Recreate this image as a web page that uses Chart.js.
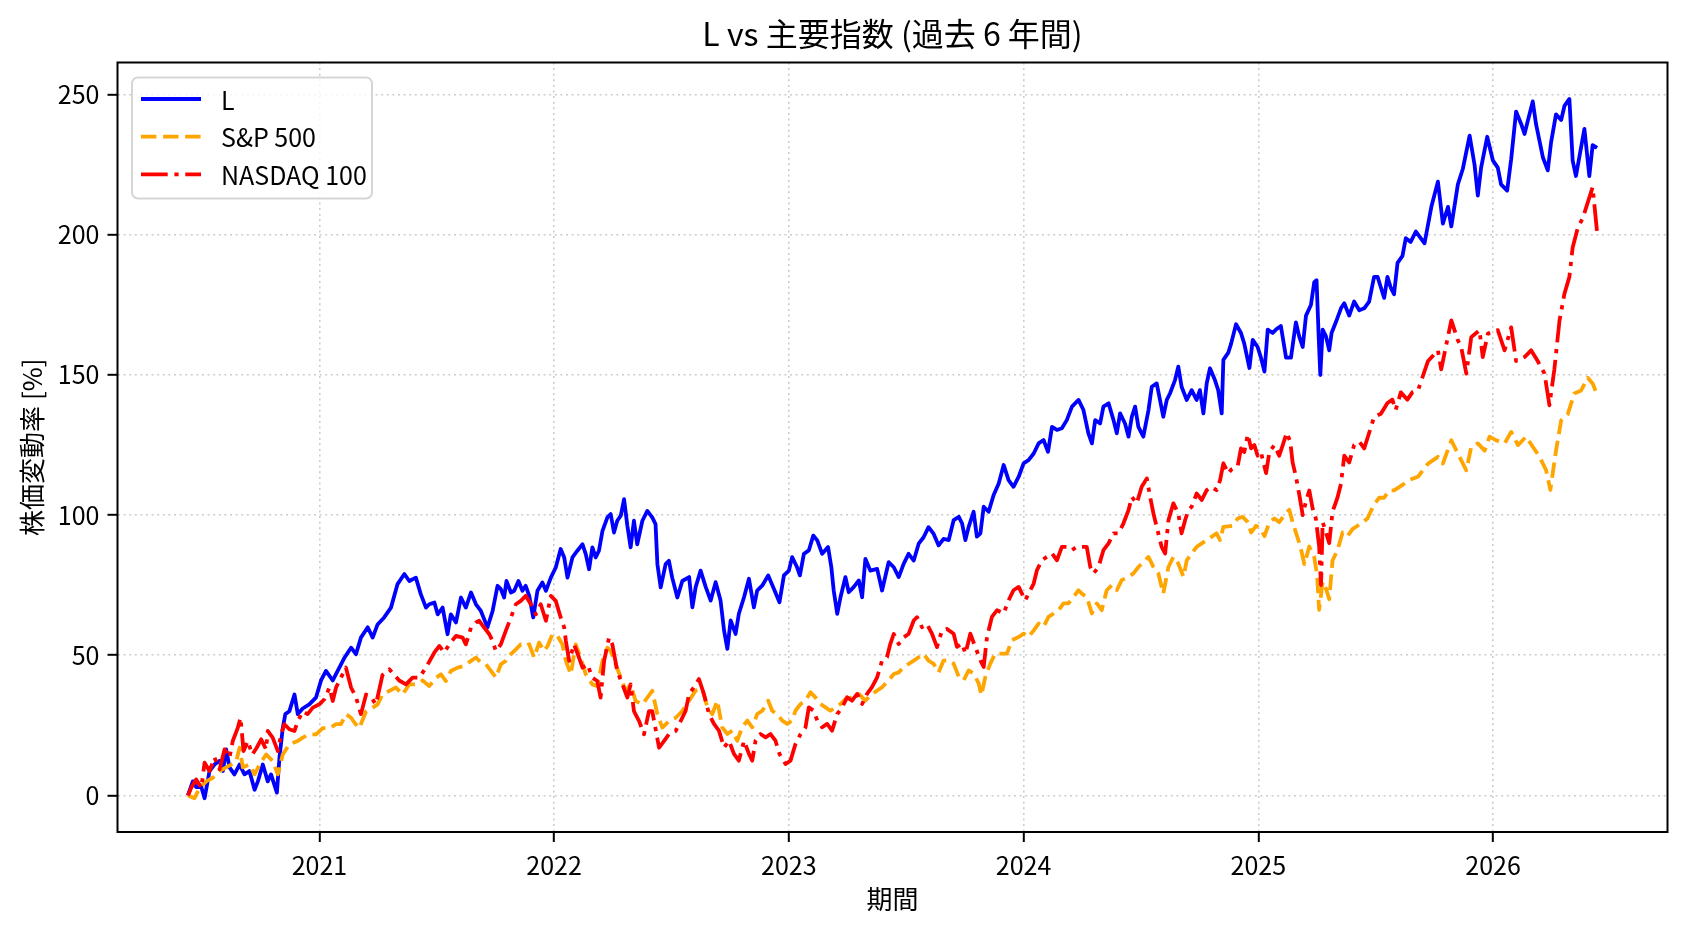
<!DOCTYPE html>
<html lang="ja">
<head>
  <meta charset="UTF-8">
  <title>L vs 主要指数 (過去 6 年間)</title>
  <script src="https://cdn.jsdelivr.net/npm/chart.js"></script>
  <style>
    html, body { margin: 0; padding: 0; background: #fff; }
    canvas { display: block; }
  </style>
</head>
<body>
  <canvas id="chart" width="1688" height="932"></canvas>

  <script>
    // --- data (x = decimal year, y = % change) ---
    const lDates = [
      2020.440, 2020.461, 2020.475, 2020.497, 2020.511, 2020.532, 2020.553, 2020.575, 2020.589, 2020.603,
      2020.617, 2020.638, 2020.660, 2020.681, 2020.702, 2020.724, 2020.738, 2020.759, 2020.780, 2020.794,
      2020.819, 2020.830, 2020.844, 2020.855, 2020.872, 2020.894, 2020.908, 2020.929, 2020.957, 2020.986,
      2021.007, 2021.028, 2021.057, 2021.085, 2021.106, 2021.135, 2021.156, 2021.177, 2021.206, 2021.227,
      2021.248, 2021.276, 2021.305, 2021.333, 2021.362, 2021.383, 2021.411, 2021.432, 2021.454, 2021.468,
      2021.490, 2021.504, 2021.525, 2021.546, 2021.560, 2021.582, 2021.603, 2021.624, 2021.646, 2021.667,
      2021.688, 2021.702, 2021.716, 2021.738, 2021.759, 2021.773, 2021.787, 2021.797, 2021.816, 2021.830,
      2021.848, 2021.865, 2021.879, 2021.894, 2021.911, 2021.929, 2021.950, 2021.965, 2021.986, 2022.007,
      2022.028, 2022.043, 2022.057, 2022.078, 2022.099, 2022.121, 2022.135, 2022.149, 2022.163, 2022.177,
      2022.191, 2022.206, 2022.227, 2022.241, 2022.255, 2022.269, 2022.284, 2022.298, 2022.312, 2022.326,
      2022.340, 2022.354, 2022.376, 2022.397, 2022.418, 2022.432, 2022.440, 2022.454, 2022.475, 2022.489,
      2022.503, 2022.525, 2022.546, 2022.575, 2022.589, 2022.603, 2022.624, 2022.646, 2022.667, 2022.688,
      2022.709, 2022.724, 2022.738, 2022.752, 2022.773, 2022.787, 2022.809, 2022.830, 2022.851, 2022.865,
      2022.887, 2022.912, 2022.936, 2022.960, 2022.979, 2023.000, 2023.014, 2023.035, 2023.047, 2023.064,
      2023.085, 2023.104, 2023.121, 2023.142, 2023.167, 2023.181, 2023.191, 2023.206, 2023.220, 2023.241,
      2023.255, 2023.276, 2023.298, 2023.312, 2023.326, 2023.347, 2023.376, 2023.397, 2023.425, 2023.447,
      2023.468, 2023.489, 2023.510, 2023.532, 2023.553, 2023.574, 2023.595, 2023.617, 2023.638, 2023.659,
      2023.681, 2023.702, 2023.724, 2023.738, 2023.752, 2023.766, 2023.787, 2023.801, 2023.816, 2023.830,
      2023.851, 2023.872, 2023.894, 2023.915, 2023.936, 2023.957, 2023.979, 2024.000, 2024.021, 2024.043,
      2024.064, 2024.085, 2024.104, 2024.121, 2024.142, 2024.163, 2024.184, 2024.206, 2024.234, 2024.255,
      2024.276, 2024.291, 2024.305, 2024.326, 2024.340, 2024.362, 2024.383, 2024.397, 2024.411, 2024.432,
      2024.447, 2024.461, 2024.475, 2024.489, 2024.510, 2024.532, 2024.546, 2024.567, 2024.581, 2024.595,
      2024.610, 2024.624, 2024.645, 2024.659, 2024.673, 2024.695, 2024.716, 2024.737, 2024.751, 2024.766,
      2024.780, 2024.794, 2024.815, 2024.829, 2024.844, 2024.851, 2024.872, 2024.884, 2024.905, 2024.926,
      2024.940, 2024.962, 2024.976, 2024.997, 2025.011, 2025.026, 2025.040, 2025.061, 2025.075, 2025.096,
      2025.118, 2025.139, 2025.160, 2025.174, 2025.189, 2025.203, 2025.224, 2025.238, 2025.248, 2025.257,
      2025.264, 2025.274, 2025.288, 2025.302, 2025.312, 2025.330, 2025.352, 2025.366, 2025.387, 2025.408,
      2025.430, 2025.451, 2025.472, 2025.493, 2025.508, 2025.522, 2025.536, 2025.550, 2025.564, 2025.578,
      2025.593, 2025.614, 2025.628, 2025.649, 2025.671, 2025.690, 2025.708, 2025.737, 2025.765, 2025.786,
      2025.808, 2025.822, 2025.850, 2025.871, 2025.900, 2025.921, 2025.935, 2025.949, 2025.975, 2025.999,
      2026.020, 2026.034, 2026.060, 2026.077, 2026.098, 2026.120, 2026.134, 2026.148, 2026.169, 2026.183,
      2026.212, 2026.233, 2026.247, 2026.268, 2026.290, 2026.304, 2026.325, 2026.339, 2026.353, 2026.389,
      2026.410, 2026.424, 2026.443
    ];
    const lValues = [
      0, 5, 3, 3, -1, 8.7, 11, 12.3, 8.7, 16.4,
      10, 7.5, 11, 7.5, 8.7, 2, 5, 11, 5, 7.5,
      1, 13.5, 24, 29, 30, 36, 29, 31, 32.5, 35,
      41, 44.4, 41, 45.6, 49, 52.7, 50.4, 56.3, 60, 56.3,
      61, 63.5, 67, 75.4, 79, 76.5, 77.7, 71.8, 67, 68.2,
      68.8, 64.6, 67, 57.5, 64.6, 61.7, 70.6, 67, 72.4, 68.2,
      65.8, 62.9, 59.9, 65.8, 74.8, 73.6, 70.6, 76.5, 72.4, 73,
      76.5, 73, 74.8, 71.2, 63.5, 73, 76, 73, 77.7, 81.3,
      87.9, 84.9, 77.7, 84.9, 87.3, 89.6, 86, 80.7, 88.5, 84.9,
      87.3, 94.4, 99.2, 100.4, 93.8, 98, 99.8, 105.7, 96.2, 88.5,
      98, 89.6, 98, 101.5, 99.2, 96.8, 82.5, 74.2, 82.5, 83.7,
      77.7, 70.6, 76.5, 77.9, 67.1, 74.3, 80.2, 74.3, 69.5, 76.1,
      69.5, 58.8, 52.3, 62.4, 57.6, 64.8, 70.7, 77.3, 67.1, 73.1,
      74.9, 78.5, 73.7, 68.9, 78.5, 80.2, 85, 81.4, 78.5, 86.2,
      87.4, 92.7, 91, 86.2, 88.6, 81.4, 73.1, 64.8, 70.7, 77.9,
      72.5, 74.3, 76.7, 70.7, 84.4, 80.2, 80.8, 73.1, 83.2, 81.4,
      77.9, 82.6, 86.2, 83.8, 89.8, 92.1, 95.7, 93.3, 89.2, 91.5,
      91.1, 98.2, 99.4, 97, 91.1, 95.8, 101.2, 92.3, 93.5, 103,
      101.2, 107.1, 111.3, 117.9, 112.5, 110.1, 113.7, 118.5, 119.6, 122,
      125.6, 126.8, 122.6, 131.5, 130.4, 131, 133.9, 138.7, 141.1, 137.5,
      129.2, 125.6, 133.9, 132.7, 138.7, 139.9, 133.9, 129.2, 136.3, 132.7,
      128, 135.1, 138.7, 131.5, 128, 137.5, 145.8, 147, 141.1, 135.1,
      141.1, 143.5, 148.2, 153, 145.8, 141.1, 144.6, 141.1, 144.6, 136.3,
      147, 152.4, 148.2, 144.6, 136.3, 155.4, 158, 161.2, 168.1, 165,
      161.2, 152.5, 162.5, 160, 156.2, 151.2, 166.2, 165, 166.2, 167.5,
      156.2, 156.2, 168.8, 163.8, 160, 171.2, 175, 183.1, 183.8, 163.8,
      150, 166.2, 163.8, 158.8, 165, 168.8, 173.8, 175.6, 171.2, 176.2,
      173.1, 173.8, 176.2, 185, 185, 181.2, 177.5, 185, 181.2, 178.8,
      190, 192.5, 198.8, 197.5, 201.2, 199, 197, 210, 219, 204,
      210, 203, 218, 223.5, 235.4, 225, 214, 224, 235, 226.6,
      224, 218, 215.8, 227, 244, 239.5, 236, 240.7, 247.6, 239.5,
      227.7, 223, 233, 243, 241, 246, 248.5, 226.5, 221, 237.8,
      221, 232, 231
    ];

    const spDates = [
      2020.440, 2020.468, 2020.490, 2020.518, 2020.546, 2020.575, 2020.603, 2020.624, 2020.646, 2020.660,
      2020.674, 2020.702, 2020.724, 2020.745, 2020.773, 2020.801, 2020.823, 2020.844, 2020.872, 2020.908,
      2020.929, 2020.957, 2020.986, 2021.014, 2021.043, 2021.071, 2021.092, 2021.113, 2021.135, 2021.149,
      2021.170, 2021.199, 2021.227, 2021.248, 2021.269, 2021.298, 2021.326, 2021.354, 2021.383, 2021.411,
      2021.440, 2021.468, 2021.497, 2021.518, 2021.539, 2021.560, 2021.589, 2021.617, 2021.646, 2021.667,
      2021.688, 2021.709, 2021.731, 2021.752, 2021.773, 2021.794, 2021.816, 2021.837, 2021.858, 2021.879,
      2021.894, 2021.915, 2021.936, 2021.957, 2021.972, 2021.993, 2022.014, 2022.035, 2022.050, 2022.071,
      2022.092, 2022.113, 2022.135, 2022.163, 2022.184, 2022.206, 2022.227, 2022.241, 2022.262, 2022.284,
      2022.305, 2022.326, 2022.347, 2022.376, 2022.397, 2022.418, 2022.440, 2022.461, 2022.489, 2022.518,
      2022.546, 2022.575, 2022.603, 2022.631, 2022.653, 2022.674, 2022.695, 2022.716, 2022.738, 2022.759,
      2022.780, 2022.801, 2022.823, 2022.844, 2022.865, 2022.887, 2022.912, 2022.929, 2022.950, 2022.972,
      2022.993, 2023.014, 2023.028, 2023.050, 2023.071, 2023.092, 2023.113, 2023.135, 2023.156, 2023.177,
      2023.198, 2023.220, 2023.241, 2023.269, 2023.298, 2023.326, 2023.354, 2023.376, 2023.397, 2023.425,
      2023.447, 2023.468, 2023.489, 2023.510, 2023.532, 2023.553, 2023.574, 2023.595, 2023.617, 2023.638,
      2023.659, 2023.681, 2023.702, 2023.724, 2023.745, 2023.766, 2023.787, 2023.809, 2023.820, 2023.837,
      2023.858, 2023.879, 2023.908, 2023.929, 2023.950, 2023.979, 2024.000, 2024.021, 2024.043, 2024.064,
      2024.085, 2024.106, 2024.128, 2024.149, 2024.170, 2024.191, 2024.213, 2024.234, 2024.248, 2024.269,
      2024.291, 2024.312, 2024.333, 2024.354, 2024.376, 2024.397, 2024.418, 2024.447, 2024.468, 2024.489,
      2024.518, 2024.532, 2024.553, 2024.574, 2024.595, 2024.617, 2024.638, 2024.659, 2024.681, 2024.695,
      2024.716, 2024.737, 2024.759, 2024.780, 2024.801, 2024.822, 2024.837, 2024.851, 2024.872, 2024.891,
      2024.912, 2024.933, 2024.955, 2024.969, 2024.990, 2025.011, 2025.026, 2025.047, 2025.068, 2025.089,
      2025.111, 2025.132, 2025.146, 2025.160, 2025.179, 2025.196, 2025.217, 2025.238, 2025.250, 2025.259,
      2025.274, 2025.288, 2025.302, 2025.316, 2025.337, 2025.359, 2025.380, 2025.401, 2025.423, 2025.444,
      2025.465, 2025.493, 2025.515, 2025.536, 2025.557, 2025.578, 2025.600, 2025.621, 2025.642, 2025.680,
      2025.723, 2025.765, 2025.786, 2025.822, 2025.850, 2025.886, 2025.907, 2025.935, 2025.964, 2025.985,
      2026.013, 2026.049, 2026.077, 2026.106, 2026.141, 2026.169, 2026.198, 2026.226, 2026.244, 2026.268,
      2026.290, 2026.318, 2026.346, 2026.375, 2026.403, 2026.424, 2026.443
    ];
    const spValues = [
      0, -1, 2.7, 5, 6.3, 8.7, 10, 11, 12.3, 17,
      10, 11, 7.5, 11, 14.6, 12.3, 7.5, 14.6, 18.2, 19.4,
      20.6, 21.8, 21.8, 24, 24, 25.4, 25.4, 29, 27.7, 26,
      24, 30, 31.3, 32.5, 36, 37.3, 38.5, 36, 39.6, 39.6,
      41, 39, 42, 43.2, 40.8, 44.4, 45.6, 46.2, 48, 49.2,
      47.4, 46.8, 44.4, 42, 46.8, 48, 50.4, 52.1, 53.9, 53.3,
      53.9, 49.2, 54.5, 51.5, 53.3, 57.5, 56.9, 53.9, 48, 43.2,
      53.9, 49.2, 43.2, 39.6, 39, 48, 52.7, 51.5, 46.8, 42,
      37.3, 39.6, 33.7, 32.5, 34.9, 37.3, 28.9, 24.2, 26.5, 27.7,
      30.1, 33.8, 37.4, 38, 31.4, 29, 33.8, 24.3, 21.9, 23.1,
      19.5, 24.3, 26.7, 24.3, 29, 30.2, 33.8, 30.2, 29, 26.7,
      25.5, 26.7, 30.2, 32.6, 33.8, 36.8, 35, 32.6, 31.4, 30.2,
      31.4, 32.6, 34.4, 35, 36.2, 33.8, 36.2, 37.4, 38.6, 41,
      43.3, 43.9, 45.7, 46.9, 48.1, 49.3, 50.5, 48.1, 46.9, 43.9,
      48.1, 48.2, 47, 42.3, 41.1, 44.6, 43.5, 39.9, 35.7, 42.3,
      47, 50.6, 50.6, 50.6, 55.4, 56.5, 57.7, 56.5, 58.9, 61.3,
      60.1, 63.7, 64.9, 66.1, 68.5, 68.5, 70.8, 73.2, 72, 70.8,
      64.9, 68.5, 66.1, 73.2, 75, 73.2, 76.8, 78, 79.2, 81.5,
      83.9, 85.1, 81.5, 79.2, 72, 81.5, 85.1, 82.7, 78, 83.9,
      86.3, 88.7, 89.9, 91.1, 92.3, 93.5, 91.1, 95.8, 96, 96.2,
      98.8, 99.4, 97.5, 93.8, 96.2, 95, 92.5, 97.5, 98.8, 97.5,
      100, 101.9, 97.5, 93.8, 88.8, 82.5, 88.8, 85, 78.8, 66.2,
      76.2, 73.8, 70, 83.8, 87.5, 93.8, 92.5, 95, 96.2, 97.5,
      98.8, 103.8, 106.2, 106.2, 108.8, 108.8, 110, 111.2, 112.5, 113.7,
      118.4, 120.8, 118.4, 126.7, 122, 116, 124.4, 125.6, 123, 128,
      126.7, 125.6, 129.7, 125, 128, 124.4, 120.8, 116, 109, 123,
      133.8, 136, 143.4, 144.5, 149, 147, 143
    ];

    const ndDates = [
      2020.440, 2020.454, 2020.475, 2020.497, 2020.511, 2020.532, 2020.553, 2020.575, 2020.596, 2020.617,
      2020.631, 2020.652, 2020.664, 2020.677, 2020.695, 2020.714, 2020.733, 2020.752, 2020.773, 2020.780,
      2020.801, 2020.823, 2020.837, 2020.851, 2020.872, 2020.894, 2020.908, 2020.929, 2020.950, 2020.972,
      2021.000, 2021.021, 2021.043, 2021.057, 2021.071, 2021.092, 2021.113, 2021.135, 2021.156, 2021.177,
      2021.199, 2021.220, 2021.241, 2021.269, 2021.298, 2021.319, 2021.340, 2021.369, 2021.397, 2021.425,
      2021.454, 2021.490, 2021.511, 2021.532, 2021.553, 2021.582, 2021.610, 2021.624, 2021.646, 2021.667,
      2021.681, 2021.702, 2021.724, 2021.738, 2021.752, 2021.773, 2021.794, 2021.816, 2021.837, 2021.858,
      2021.879, 2021.901, 2021.922, 2021.943, 2021.965, 2021.986, 2022.007, 2022.028, 2022.043, 2022.050,
      2022.064, 2022.085, 2022.106, 2022.121, 2022.142, 2022.163, 2022.184, 2022.198, 2022.213, 2022.234,
      2022.248, 2022.269, 2022.291, 2022.312, 2022.326, 2022.340, 2022.362, 2022.383, 2022.404, 2022.418,
      2022.447, 2022.468, 2022.489, 2022.518, 2022.539, 2022.560, 2022.575, 2022.596, 2022.617, 2022.638,
      2022.660, 2022.681, 2022.702, 2022.724, 2022.745, 2022.766, 2022.787, 2022.809, 2022.830, 2022.844,
      2022.858, 2022.879, 2022.901, 2022.922, 2022.943, 2022.960, 2022.986, 2023.007, 2023.028, 2023.050,
      2023.071, 2023.085, 2023.106, 2023.121, 2023.142, 2023.163, 2023.184, 2023.206, 2023.227, 2023.248,
      2023.269, 2023.291, 2023.312, 2023.333, 2023.354, 2023.376, 2023.397, 2023.418, 2023.432, 2023.447,
      2023.468, 2023.489, 2023.510, 2023.532, 2023.546, 2023.567, 2023.588, 2023.610, 2023.631, 2023.652,
      2023.673, 2023.702, 2023.716, 2023.738, 2023.752, 2023.773, 2023.794, 2023.816, 2023.830, 2023.844,
      2023.865, 2023.887, 2023.915, 2023.936, 2023.957, 2023.979, 2024.007, 2024.021, 2024.043, 2024.057,
      2024.078, 2024.099, 2024.121, 2024.142, 2024.163, 2024.184, 2024.206, 2024.227, 2024.248, 2024.269,
      2024.284, 2024.298, 2024.319, 2024.340, 2024.362, 2024.383, 2024.404, 2024.425, 2024.447, 2024.461,
      2024.482, 2024.503, 2024.525, 2024.539, 2024.553, 2024.567, 2024.588, 2024.603, 2024.617, 2024.638,
      2024.659, 2024.673, 2024.688, 2024.702, 2024.716, 2024.737, 2024.759, 2024.780, 2024.801, 2024.822,
      2024.837, 2024.851, 2024.872, 2024.884, 2024.912, 2024.926, 2024.940, 2024.955, 2024.969, 2024.983,
      2024.997, 2025.011, 2025.033, 2025.047, 2025.068, 2025.089, 2025.104, 2025.121, 2025.136, 2025.146,
      2025.160, 2025.174, 2025.189, 2025.203, 2025.217, 2025.231, 2025.245, 2025.259, 2025.267, 2025.274,
      2025.288, 2025.302, 2025.316, 2025.337, 2025.352, 2025.366, 2025.387, 2025.408, 2025.430, 2025.451,
      2025.479, 2025.493, 2025.522, 2025.550, 2025.571, 2025.585, 2025.607, 2025.635, 2025.656, 2025.680,
      2025.723, 2025.765, 2025.779, 2025.801, 2025.822, 2025.850, 2025.864, 2025.886, 2025.907, 2025.942,
      2025.956, 2025.978, 2026.020, 2026.049, 2026.077, 2026.098, 2026.134, 2026.162, 2026.190, 2026.219,
      2026.240, 2026.261, 2026.283, 2026.304, 2026.325, 2026.339, 2026.361, 2026.382, 2026.396, 2026.424,
      2026.443
    ];
    const ndValues = [
      0, 2.7, 5.7, 2.7, 11.7, 8.7, 13.5, 9.3, 16.4, 13.5,
      19.4, 24, 27.7, 15.8, 19.4, 14.6, 17, 20, 16.4, 23,
      20.6, 15.8, 21.8, 25.4, 23.6, 23, 26.5, 30, 29, 31.3,
      32.5, 34.3, 38.5, 33.7, 38.5, 42, 45.6, 38.5, 35, 29,
      36, 35, 32.5, 43, 45, 43, 41, 39.6, 42, 42,
      45.6, 51, 53.3, 51, 53.9, 56.9, 56.3, 53.9, 59.9, 61.7,
      62.3, 59.9, 57.5, 55.1, 51.5, 53.9, 58.7, 63.5, 68.2, 69.4,
      71.2, 68.2, 64.6, 68.2, 62.3, 71.2, 69.4, 63.5, 59.9, 55.1,
      48, 53.9, 49.2, 45.6, 46.8, 42, 40.8, 34.9, 48, 56.3,
      53.9, 44.4, 39.6, 34.9, 39.6, 30.1, 26.5, 21.8, 30.1, 30.1,
      17, 19.4, 21.8, 23, 26.5, 30.1, 36.2, 38.6, 41.5, 36.2,
      29, 25.5, 23.1, 17.1, 19.5, 14.8, 12.4, 19.5, 14.8, 12.4,
      19.5, 21.9, 20.7, 21.9, 19.5, 14.8, 11.2, 12.4, 18.3, 21.9,
      24.3, 31.4, 30.2, 26.7, 24.3, 25.5, 23.1, 29, 31.4, 35,
      33.8, 36.2, 32.6, 36.2, 38.6, 42.1, 48.1, 49.3, 54, 57.6,
      54, 56.4, 57.6, 62.4, 63.6, 60, 61.2, 57.6, 52.9, 58.8,
      59.4, 57.7, 53, 54.2, 50.6, 57.7, 53, 48.2, 45.8, 56.5,
      63.7, 66.1, 64.9, 69.6, 73.2, 74.4, 69.6, 72, 75.6, 80.4,
      83.9, 85.1, 86.3, 83.9, 88.7, 88.7, 87.5, 88.7, 88.7, 88.7,
      81.5, 79.2, 81.5, 87.5, 89.9, 93.5, 93.5, 97, 101.8, 106.5,
      104.2, 110.1, 113.1, 106.5, 100.6, 95.8, 88.7, 86.3, 98.2, 104.2,
      100.6, 93.5, 98.2, 101.8, 103, 107.7, 105.4, 108.9, 110.1, 108.9,
      112.5, 118.5, 114.9, 116.2, 117.5, 123.8, 122.5, 128.8, 123.8, 125,
      121.2, 122.5, 115, 122.5, 125, 121.2, 125, 129.4, 126.2, 118.8,
      113.8, 107.5, 100, 105, 108.8, 102.5, 98.8, 88.8, 75, 97.5,
      93.8, 90, 101.2, 106.2, 111.2, 121.2, 118.8, 125, 126.2, 123.8,
      131.2, 135, 136.2, 140, 141.2, 137.5, 143.8, 141.2, 143.8, 144.5,
      155, 158.8, 152, 161, 169.5, 162.4, 160, 150.5, 163.5, 166,
      156.4, 164.8, 166, 158.8, 167, 155, 156.4, 158.8, 155, 150.5,
      139.2, 152, 169.5, 179, 185, 195.5, 202.6, 206, 209.6, 217,
      201
    ];

    const xTicks = [2021, 2022, 2023, 2024, 2025, 2026];
    const yTicks = [0, 50, 100, 150, 200, 250];

    const titleText = 'L vs 主要指数 (過去 6 年間)';
    const xLabel = '期間';
    const yLabel = '株価変動率 [%]';
    const FONT = '"Noto Sans CJK JP", "Noto Sans", sans-serif';

    const toPoints = (xs, ys) => xs.map((x, i) => ({ x: x, y: ys[i] }));

    // title, axis labels, frame and legend drawn like matplotlib
    const decorations = {
      id: 'decorations',
      afterDraw(chart) {
        const { ctx, chartArea: a } = chart;
        ctx.save();
        ctx.strokeStyle = '#000';
        ctx.lineWidth = 2;
        ctx.strokeRect(a.left, a.top, a.right - a.left, a.bottom - a.top);

        ctx.fillStyle = '#000';
        ctx.textAlign = 'center';
        ctx.textBaseline = 'middle';
        ctx.font = `32px ${FONT}`;
        ctx.fillText(titleText, (a.left + a.right) / 2, 34);
        ctx.font = `26px ${FONT}`;
        ctx.fillText(xLabel, (a.left + a.right) / 2, 899);
        ctx.translate(32, (a.top + a.bottom) / 2);
        ctx.rotate(-Math.PI / 2);
        ctx.fillText(yLabel, 0, 0);
        ctx.restore();

        // legend box
        ctx.save();
        ctx.beginPath();
        ctx.roundRect(132, 77.5, 240, 121, 6);
        ctx.fillStyle = 'rgba(255,255,255,0.8)';
        ctx.fill();
        ctx.strokeStyle = '#d6d6d6';
        ctx.lineWidth = 2;
        ctx.stroke();
        ctx.font = `25px ${FONT}`;
        ctx.textAlign = 'left';
        ctx.textBaseline = 'middle';
        chart.data.datasets.forEach((ds, i) => {
          const y = 99 + i * 37.7;
          ctx.beginPath();
          ctx.strokeStyle = ds.borderColor;
          ctx.lineWidth = ds.borderWidth;
          ctx.setLineDash(ds.borderDash || []);
          ctx.moveTo(141, y);
          ctx.lineTo(201, y);
          ctx.stroke();
          ctx.setLineDash([]);
          ctx.fillStyle = '#000';
          ctx.fillText(ds.label, 221, y + 1);
        });
        ctx.restore();
      }
    };

    const gridStyle = {
      color: 'rgba(176,176,176,0.65)',
      lineWidth: 1.6,
      borderDash: [2, 3.6],
      tickColor: '#000',
      tickWidth: 2,
      tickLength: 10
    };

    new Chart(document.getElementById('chart').getContext('2d'), {
      type: 'line',
      data: {
        datasets: [
          {
            label: 'L',
            data: toPoints(lDates, lValues),
            borderColor: '#0000ff',
            borderWidth: 3.8,
            order: 3
          },
          {
            label: 'S&P 500',
            data: toPoints(spDates, spValues),
            borderColor: '#ffa500',
            borderWidth: 3.8,
            borderDash: [15.4, 6.7],
            order: 2
          },
          {
            label: 'NASDAQ 100',
            data: toPoints(ndDates, ndValues),
            borderColor: '#ff0000',
            borderWidth: 3.8,
            borderDash: [26.7, 6.7, 4.2, 6.7],
            order: 1
          }
        ]
      },
      options: {
        responsive: false,
        animation: false,
        elements: {
          point: { radius: 0 },
          line: { tension: 0, borderCapStyle: 'butt', borderJoinStyle: 'round' }
        },
        layout: { padding: { left: 0, top: 62.5, right: 20.5, bottom: 0 } },
        plugins: {
          legend: { display: false },
          title: { display: false },
          tooltip: { enabled: false }
        },
        scales: {
          x: {
            type: 'linear',
            min: 2020.14,
            max: 2026.743,
            afterBuildTicks: (scale) => { scale.ticks = xTicks.map(v => ({ value: v })); },
            afterFit: (scale) => { scale.height = 100; },
            grid: gridStyle,
            border: { display: false, dash: [2, 3.6] },
            ticks: {
              color: '#000',
              font: { family: FONT, size: 25 },
              padding: 8,
              maxRotation: 0,
              callback: (v) => String(v)
            }
          },
          y: {
            type: 'linear',
            min: -13.06,
            max: 261.5,
            afterBuildTicks: (scale) => { scale.ticks = yTicks.map(v => ({ value: v })); },
            afterFit: (scale) => { scale.width = 117.5; },
            grid: gridStyle,
            border: { display: false, dash: [2, 3.6] },
            ticks: {
              color: '#000',
              font: { family: FONT, size: 25 },
              padding: 8,
              callback: (v) => String(v)
            }
          }
        }
      },
      plugins: [decorations]
    });
  </script>
</body>
</html>
